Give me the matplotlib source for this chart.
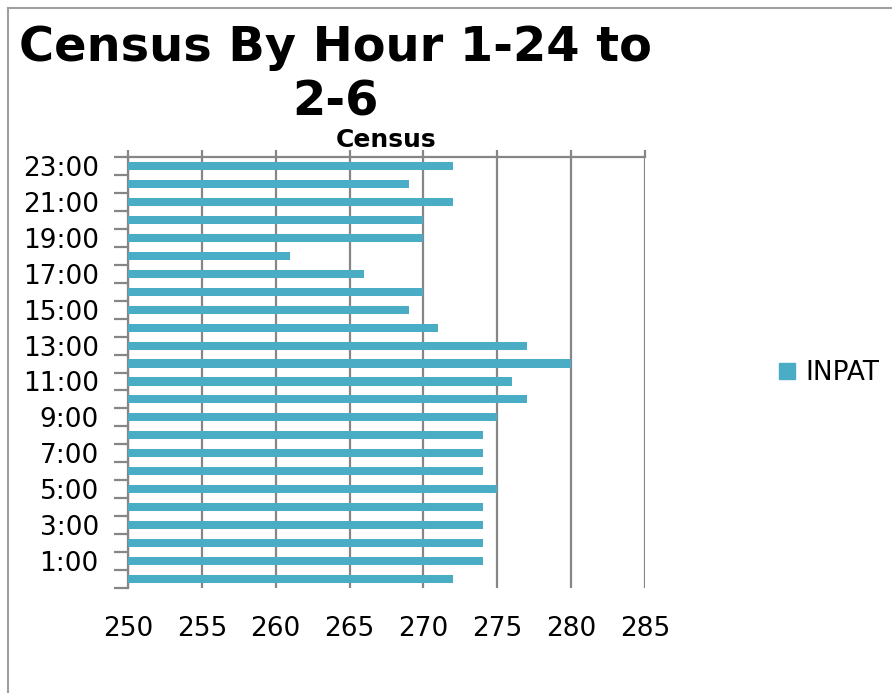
import matplotlib.pyplot as plt
from matplotlib.lines import Line2D
import numpy as np

# Census by hour (0:00 .. 23:00)
hours = ['%d:00' % h for h in range(24)]
inpat = [272, 274, 274, 274, 274, 275, 274, 274, 274, 275, 277, 276,
         280, 277, 271, 269, 270, 266, 261, 270, 270, 272, 269, 272]
x_ticks = [250, 255, 260, 265, 270, 275, 280, 285]

bar_color = '#4BACC6'
grid_color = '#868686'

fig = plt.figure(figsize=(8.92, 6.93), dpi=100)
ax = fig.add_axes([128 / 892, 1 - 588 / 693, 517 / 892, 431 / 693])

y = np.arange(len(hours))
ax.barh(y, np.array(inpat) - 250, left=250, height=0.45, color=bar_color, zorder=3)

ax.set_xlim(250, 285)
ax.set_ylim(-0.5, 23.5)

# vertical gridlines
ax.set_xticks(x_ticks)
ax.xaxis.grid(True, color=grid_color, linewidth=1.6, zorder=1)
ax.tick_params(axis='x', which='major', bottom=False, top=True, length=5, direction='out',
               width=1.6, color=grid_color, labelbottom=True, labelsize=19, pad=15)

# y labels on odd hours, tick marks between categories
ax.set_yticks(y[1::2])
ax.set_yticklabels(hours[1::2])
ax.set_yticks(np.arange(-0.5, 24, 1), minor=True)
ax.tick_params(axis='y', which='major', length=0, labelsize=19, pad=21)
ax.tick_params(axis='y', which='minor', length=10, width=1.6, color=grid_color)

for side in ['right', 'bottom']:
    ax.spines[side].set_visible(False)
for side in ['left', 'top']:
    ax.spines[side].set_color(grid_color)
    ax.spines[side].set_linewidth(1.6)

ax.set_title('Census', fontsize=18, fontweight='bold', pad=7)

fig.text(335 / 892, 1 - 24 / 693, 'Census By Hour 1-24 to\n2-6', ha='center', va='top',
         fontsize=34.5, fontweight='bold', linespacing=1.2)

handle = Line2D([], [], marker='s', linestyle='none', color=bar_color, markersize=11)
fig.legend([handle], ['INPAT'], loc='center left', bbox_to_anchor=(750 / 892, 1 - 373 / 693),
           frameon=False, fontsize=19, handletextpad=0.2, handlelength=1.0)

# outer chart border
fig.add_artist(Line2D([8 / 892, 8 / 892], [0, 1 - 8 / 693], transform=fig.transFigure,
                      color='#a0a0a0', linewidth=1.5))
fig.add_artist(Line2D([8 / 892, 1], [1 - 8 / 693, 1 - 8 / 693], transform=fig.transFigure,
                      color='#a0a0a0', linewidth=1.5))

fig.savefig('out.png', dpi=100)
plt.close(fig)
